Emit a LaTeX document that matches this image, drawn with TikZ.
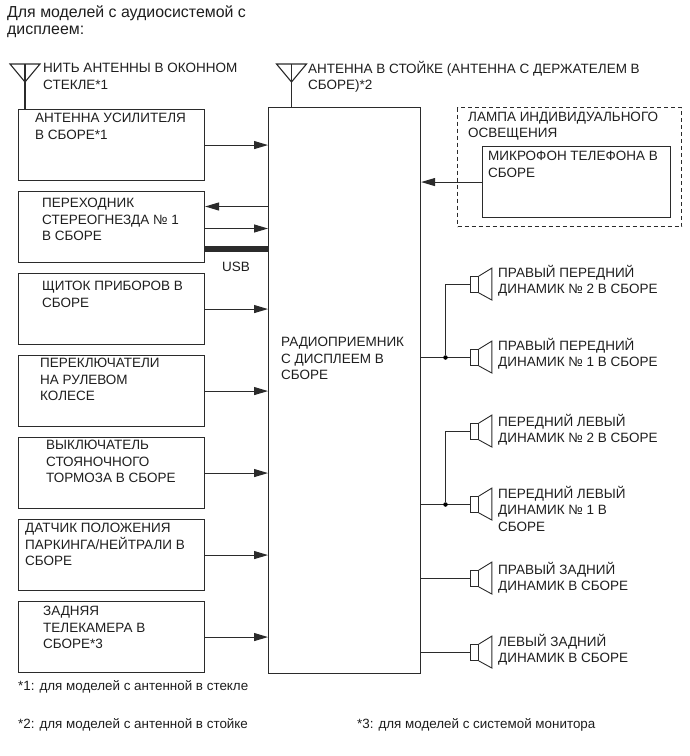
\documentclass[tikz,border=0pt]{standalone}
\usepackage{fontspec}
\setmainfont{Liberation Sans}
\usetikzlibrary{arrows.meta, calc}
\definecolor{lnblack}{HTML}{2B2B2B}
\definecolor{txblack}{HTML}{1E1E1E}

\tikzset{
  unitbox/.style={draw=lnblack, line width=1.1pt, inner sep=0pt, anchor=north west,
    minimum width=186pt, minimum height=71pt},
  spkbox/.style={draw=lnblack, line width=0.9pt, inner sep=0pt, anchor=west,
    minimum width=8pt, minimum height=16pt},
  lbl/.style={text=txblack, inner sep=0pt, anchor=north west, align=left,
    font=\fontsize{13.5}{16.5}\selectfont},
  note/.style={lbl, font=\fontsize{13.4}{15}\selectfont},
  jdot/.style={circle, fill=black, inner sep=0pt, minimum size=4.5pt},
  wire/.style={lnblack, line width=1.1pt}
}

\begin{document}
\begin{tikzpicture}[x=1pt, y=-1pt, >={Stealth[length=14pt, width=8pt, inset=0pt]}]

\useasboundingbox (0,0) rectangle (689,756);

% Heading
\node[lbl, font=\fontsize{15.9}{17}\selectfont] (head) at (7,5)
  {Для моделей с аудиосистемой с\\дисплеем:};

% --- Left column ---
\node[unitbox] (ampbox) at (18,109) {};
\node[unitbox] (stereobox) at (18,191) {};
\foreach \name/\top in {clusterbox/273, wheelbox/355, brakebox/437, parkbox/519, camerabox/601} {
  \node[unitbox] (\name) at (18,\top) {};
}

% Radio
\node[draw=lnblack, line width=1.1pt, inner sep=0pt, anchor=north west,
      minimum width=152pt, minimum height=566pt] (radio) at (268,107) {};

% Box texts
\node[lbl] (amptxt) at (35,113) {АНТЕННА УСИЛИТЕЛЯ\\В СБОРЕ*1};
\node[lbl] (stereotxt) at (42,198) {ПЕРЕХОДНИК\\СТЕРЕОГНЕЗДА № 1\\В СБОРЕ};
\node[lbl] (clustertxt) at (42,281) {ЩИТОК ПРИБОРОВ В\\СБОРЕ};
\node[lbl] (wheeltxt) at (40,358) {ПЕРЕКЛЮЧАТЕЛИ\\НА РУЛЕВОМ\\КОЛЕСЕ};
\node[lbl] (braketxt) at (46,440) {ВЫКЛЮЧАТЕЛЬ\\СТОЯНОЧНОГО\\ТОРМОЗА В СБОРЕ};
\node[lbl] (parktxt) at (25,523) {ДАТЧИК ПОЛОЖЕНИЯ\\ПАРКИНГА/НЕЙТРАЛИ В\\СБОРЕ};
\node[lbl] (cameratxt) at (43,606) {ЗАДНЯЯ\\ТЕЛЕКАМЕРА В\\СБОРЕ*3};
\node[lbl] (radiotxt) at (281,337) {РАДИОПРИЕМНИК\\С ДИСПЛЕЕМ В\\СБОРЕ};

% Arrows to the radio
\foreach \name in {ampbox, clusterbox, wheelbox, brakebox, parkbox, camerabox} {
  \draw[wire, ->] (\name.east) -- (\name.east -| radio.west);
}

% Stereo jack links
\coordinate (stereoout) at ($(stereobox.north east)+(0,15.5)$);
\coordinate (stereoin) at ($(stereobox.north east)+(0,37.5)$);
\coordinate (stereousb) at ($(stereobox.north east)+(0,58)$);
\draw[wire, ->] (stereoout -| radio.west) -- (stereoout);
\draw[wire, ->] (stereoin) -- (stereoin -| radio.west);
\draw[lnblack, line width=6pt] (stereousb) -- (stereousb -| radio.west);
\node[lbl] (usbtxt) at (222,262) {USB};

% --- Antennas ---
\coordinate (glasstop) at (25,64);
\draw[wire] (glasstop) ++(-15,0) -- ++(30,0) -- ++(-15,18) -- cycle;
\draw[wire] (glasstop) -- (glasstop |- ampbox.north);
\node[lbl] (glasstxt) at (43,63) {НИТЬ АНТЕННЫ В ОКОННОМ\\СТЕКЛЕ*1};

\coordinate (pillartop) at (291.5,64);
\draw[wire] (pillartop) ++(-15,0) -- ++(30,0) -- ++(-15,18) -- cycle;
\draw[wire] (pillartop) -- (pillartop |- radio.north);
\node[lbl] (pillartxt) at (308,61) {АНТЕННА В СТОЙКЕ (АНТЕННА С ДЕРЖАТЕЛЕМ В\\СБОРЕ)*2};

% --- Lamp and microphone ---
\node[draw=lnblack, line width=1.1pt, dash pattern=on 4pt off 3pt, inner sep=0pt, anchor=north west,
      minimum width=224pt, minimum height=119pt] (lampbox) at (457,107) {};
\node[lbl] (lamptxt) at (468,111.5) {ЛАМПА ИНДИВИДУАЛЬНОГО\\ОСВЕЩЕНИЯ};
\node[draw=lnblack, line width=1.1pt, inner sep=0pt, anchor=north west,
      minimum width=188pt, minimum height=71pt] (micbox) at (482,146) {};
\node[lbl] (mictxt) at (488,151) {МИКРОФОН ТЕЛЕФОНА В\\СБОРЕ};
\draw[wire, ->] (micbox.west) -- (micbox.west -| radio.east);

% --- Speakers ---
\foreach \name/\y in {frtwo/284.5, frone/357.5, fltwo/431.5, flone/504.5, rrspk/578.5, rlspk/652.5} {
  \node[spkbox] (\name) at (470,\y) {};
  \draw[wire, line width=0.9pt] (\name.north east) -- ++(13,-8) -- ++(0,32) -- (\name.south east);
}
\node[lbl] (frtwotxt) at (498,265) {ПРАВЫЙ ПЕРЕДНИЙ\\ДИНАМИК № 2 В СБОРЕ};
\node[lbl] (fronetxt) at (498,338) {ПРАВЫЙ ПЕРЕДНИЙ\\ДИНАМИК № 1 В СБОРЕ};
\node[lbl] (fltwotxt) at (498,414) {ПЕРЕДНИЙ ЛЕВЫЙ\\ДИНАМИК № 2 В СБОРЕ};
\node[lbl] (flonetxt) at (498,486) {ПЕРЕДНИЙ ЛЕВЫЙ\\ДИНАМИК № 1 В\\СБОРЕ};
\node[lbl] (rrtxt) at (498,562) {ПРАВЫЙ ЗАДНИЙ\\ДИНАМИК В СБОРЕ};
\node[lbl] (rltxt) at (498,634) {ЛЕВЫЙ ЗАДНИЙ\\ДИНАМИК В СБОРЕ};

% Speaker wires
\foreach \name in {frone, flone, rrspk, rlspk} {
  \draw[wire] (\name.west -| radio.east) -- (\name.west);
}
\node[jdot] (frjoin) at (frone.west -| 445.5,0) {};
\node[jdot] (fljoin) at (flone.west -| 445.5,0) {};
\draw[wire] (frjoin) |- (frtwo.west);
\draw[wire] (fljoin) |- (fltwo.west);

% Notes
\node[note] (noteone) at (18,680) {*1: для моделей с антенной в стекле};
\node[note] (notetwo) at (18,718) {*2: для моделей с антенной в стойке};
\node[note] (notethree) at (357,718) {*3: для моделей с системой монитора};

\end{tikzpicture}
\end{document}
